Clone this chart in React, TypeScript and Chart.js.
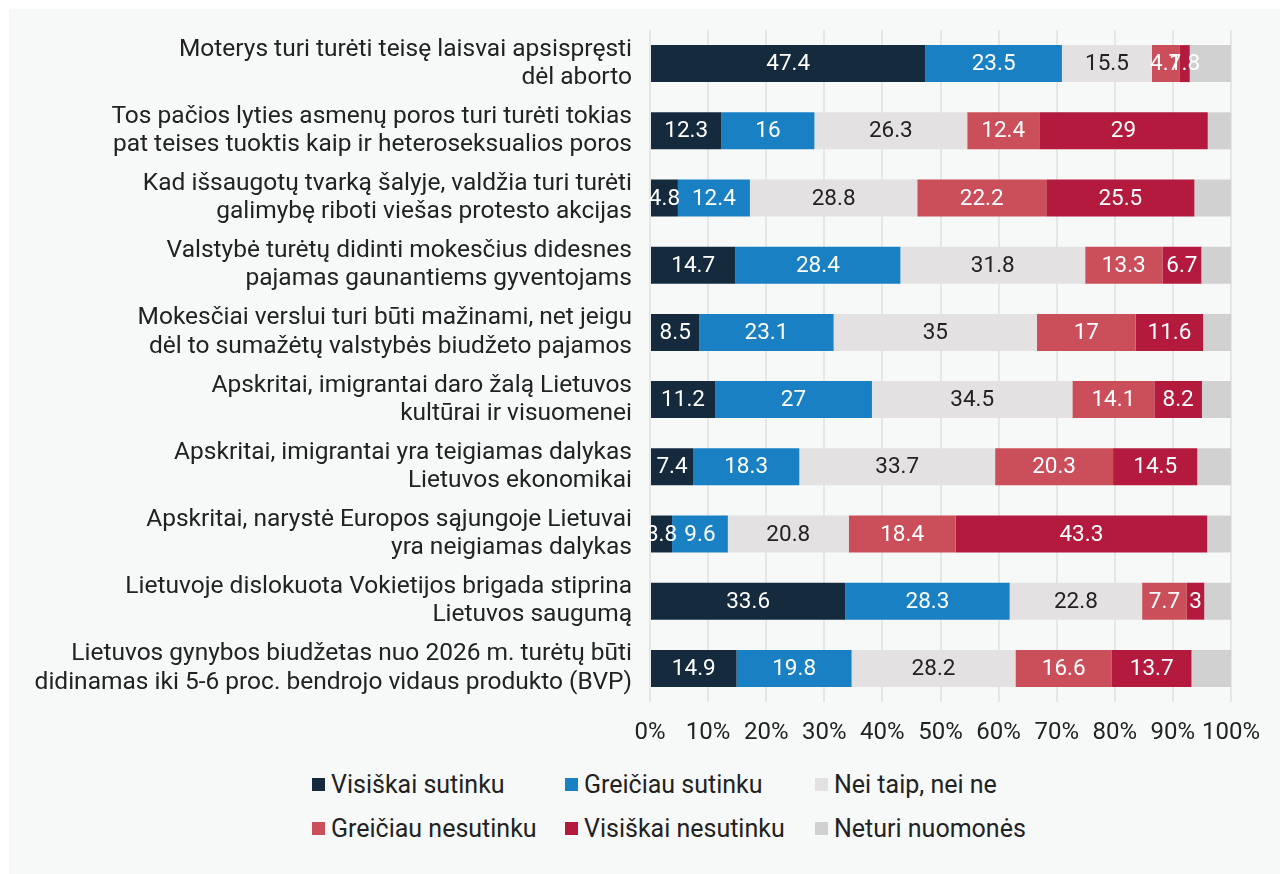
import React, { useEffect, useRef } from "react";
import { Chart, registerables } from "chart.js";

Chart.register(...registerables);

const categories: string[][] = [
  ["Moterys turi turėti teisę laisvai apsispręsti", "dėl aborto"],
  ["Tos pačios lyties asmenų poros turi turėti tokias", "pat teises tuoktis kaip ir heteroseksualios poros"],
  ["Kad išsaugotų tvarką šalyje, valdžia turi turėti", "galimybę riboti viešas protesto akcijas"],
  ["Valstybė turėtų didinti mokesčius didesnes", "pajamas gaunantiems gyventojams"],
  ["Mokesčiai verslui turi būti mažinami, net jeigu", "dėl to sumažėtų valstybės biudžeto pajamos"],
  ["Apskritai, imigrantai daro žalą Lietuvos", "kultūrai ir visuomenei"],
  ["Apskritai, imigrantai yra teigiamas dalykas", "Lietuvos ekonomikai"],
  ["Apskritai, narystė Europos sąjungoje Lietuvai", "yra neigiamas dalykas"],
  ["Lietuvoje dislokuota Vokietijos brigada stiprina", "Lietuvos saugumą"],
  ["Lietuvos gynybos biudžetas nuo 2026 m. turėtų būti", "didinamas iki 5-6 proc. bendrojo vidaus produkto (BVP)"],
];

const seriesNames = [
  "Visiškai sutinku",
  "Greičiau sutinku",
  "Nei taip, nei ne",
  "Greičiau nesutinku",
  "Visiškai nesutinku",
  "Neturi nuomonės",
];

const visiskaiSutinku = [47.4, 12.3, 4.8, 14.7, 8.5, 11.2, 7.4, 3.8, 33.6, 14.9];
const greiciauSutinku = [23.5, 16, 12.4, 28.4, 23.1, 27, 18.3, 9.6, 28.3, 19.8];
const neiTaipNeiNe = [15.5, 26.3, 28.8, 31.8, 35, 34.5, 33.7, 20.8, 22.8, 28.2];
const greiciauNesutinku = [4.7, 12.4, 22.2, 13.3, 17, 14.1, 20.3, 18.4, 7.7, 16.6];
const visiskaiNesutinku = [1.8, 29, 25.5, 6.7, 11.6, 8.2, 14.5, 43.3, 3, 13.7];
const neturiNuomones = [7.1, 4.0, 6.3, 5.1, 4.8, 5.0, 5.8, 4.1, 4.6, 6.8];

const xTicks = [0, 10, 20, 30, 40, 50, 60, 70, 80, 90, 100];

const colors = ["#152a3c", "#1a80c4", "#e3e1e2", "#cb4f5a", "#b31a3e", "#d1d1d1"];
const labelColors = ["#ffffff", "#ffffff", "#222222", "#ffffff", "#ffffff", null];

const FONT = "Roboto";

const dataLabelPlugin = {
  id: "dataLabels",
  afterDatasetsDraw(chart: any) {
    const ctx = chart.ctx;
    ctx.save();
    ctx.font = `22.5px ${FONT}`;
    ctx.textAlign = "center";
    ctx.textBaseline = "middle";
    chart.data.datasets.forEach((ds: any, i: number) => {
      const col = labelColors[i];
      if (!col) return;
      const meta = chart.getDatasetMeta(i);
      meta.data.forEach((el: any, j: number) => {
        const v = ds.data[j];
        const cx = (el.x + el.base) / 2;
        ctx.fillStyle = col;
        ctx.fillText(String(v), cx, el.y + 1);
      });
    });
    ctx.restore();
  },
};

export default function App() {
  const ref = useRef<HTMLCanvasElement | null>(null);

  useEffect(() => {
    if (!ref.current) return;
    const all = [
      visiskaiSutinku,
      greiciauSutinku,
      neiTaipNeiNe,
      greiciauNesutinku,
      visiskaiNesutinku,
      neturiNuomones,
    ];
    const chart = new Chart(ref.current, {
      type: "bar",
      data: {
        labels: categories,
        datasets: all.map((d, i) => ({
          label: seriesNames[i],
          data: d,
          backgroundColor: colors[i],
          borderWidth: 0,
          barPercentage: 0.55,
          categoryPercentage: 1,
        })),
      },
      options: {
        indexAxis: "y",
        responsive: false,
        animation: false,
        maintainAspectRatio: false,
        layout: { padding: { top: 21, right: 49, bottom: 17, left: 0 } },
        plugins: {
          legend: { display: false },
          tooltip: { enabled: false },
        },
        scales: {
          x: {
            stacked: true,
            min: 0,
            max: 100,
            afterBuildTicks: (scale: any) => {
              scale.ticks = xTicks.map((v) => ({ value: v }));
            },
            afterFit: (scale: any) => {
              scale.height = 50;
            },
            grid: { color: "#e6e6e6", lineWidth: 2, drawTicks: false },
            border: { display: false },
            ticks: {
              padding: 17,
              color: "#222",
              font: { family: FONT, size: 24 },
              callback: (v: any) => `${v}%`,
              maxRotation: 0,
              autoSkip: false,
            },
          },
          y: {
            stacked: true,
            afterFit: (scale: any) => {
              scale.width = 641;
              scale.paddingTop = 0;
              scale.paddingBottom = 0;
            },
            grid: { display: false, drawTicks: false },
            border: { display: false },
            ticks: {
              padding: 18,
              color: "#222",
              autoSkip: false,
              font: { family: FONT, size: 24.5, lineHeight: 1.15 },
            },
          },
        },
      },
      plugins: [dataLabelPlugin],
    } as any);
    return () => chart.destroy();
  }, []);

  const legendPos = [
    { left: 303, top: 769 },
    { left: 556, top: 769 },
    { left: 806, top: 769 },
    { left: 303, top: 813 },
    { left: 556, top: 813 },
    { left: 806, top: 813 },
  ];

  return (
    <div
      style={{
        position: "absolute",
        left: 9,
        top: 9,
        width: 1271,
        height: 865,
        background: "#f7f9f9",
        overflow: "hidden",
        fontFamily: FONT,
      }}
    >
      <canvas ref={ref} width={1271} height={760} style={{ position: "absolute", left: 0, top: 0 }} />
      {seriesNames.map((name, i) => (
        <div
          key={name}
          style={{
            position: "absolute",
            left: legendPos[i].left,
            top: legendPos[i].top,
            height: 13,
            display: "flex",
            alignItems: "center",
            whiteSpace: "nowrap",
          }}
        >
          <span style={{ display: "inline-block", width: 13, height: 13, background: colors[i], marginRight: 6 }} />
          <span style={{ fontSize: 25, color: "#222", lineHeight: "13px" }}>{name}</span>
        </div>
      ))}
    </div>
  );
}
